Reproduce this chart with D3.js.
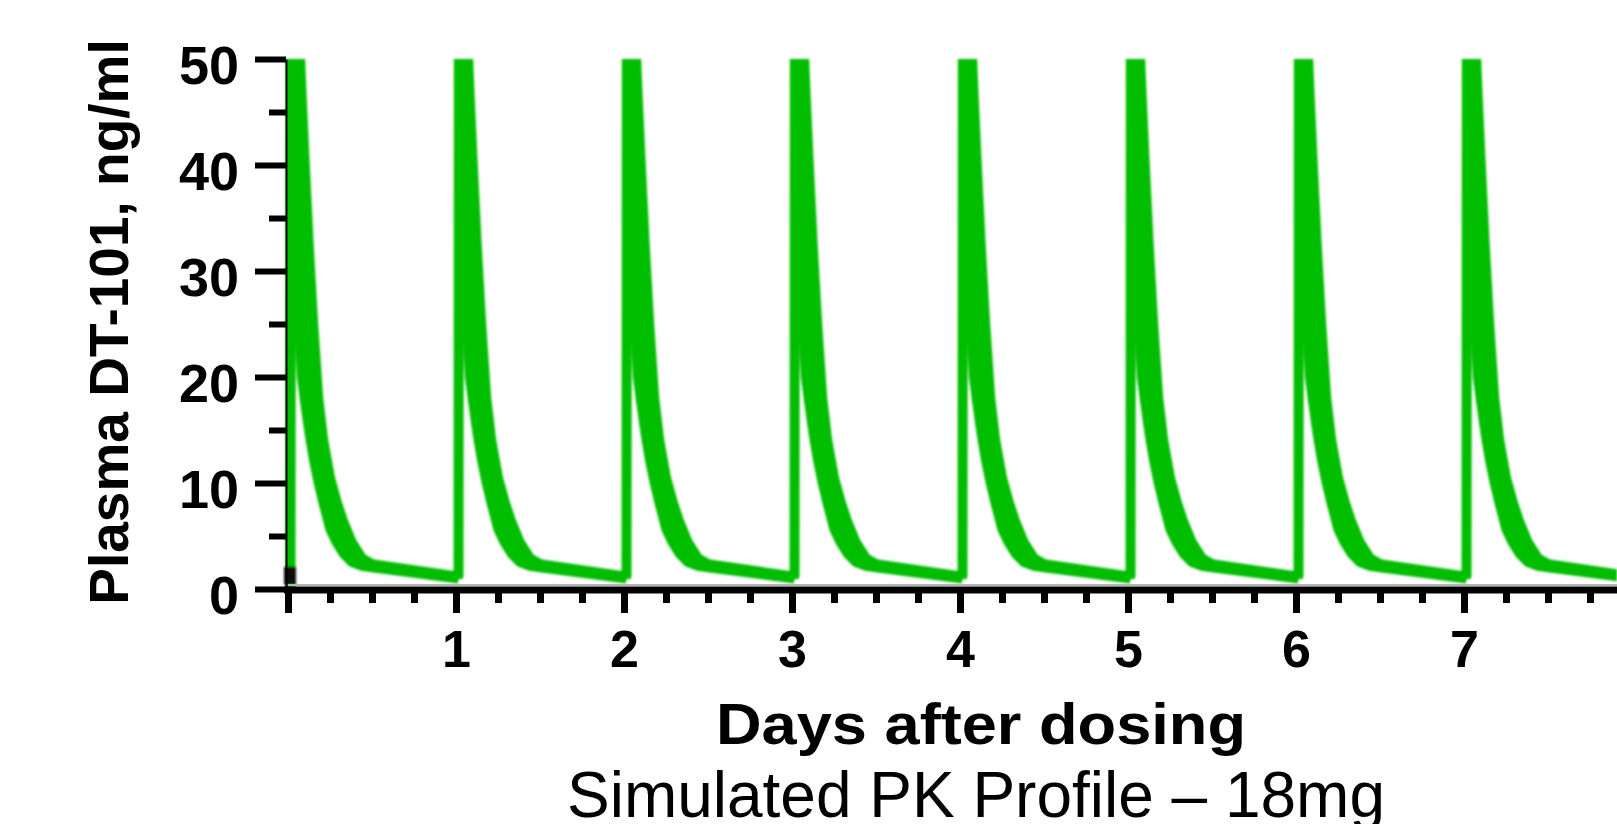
<!DOCTYPE html>
<html>
<head>
<meta charset="utf-8">
<script src="https://d3js.org/d3.v7.min.js"></script>
<style>
  body { margin: 0; background: #fff; }
  svg { display: block; }
  text { font-family: "Liberation Sans", Arial, sans-serif; fill: #000; }
</style>
</head>
<body>
<script>
// doses given once a day
var doseDays = [0, 1, 2, 3, 4, 5, 6, 7];

// time after each dose (days) and the upper / lower edge of the simulated band (ng/ml)
var tAfterDose = [0.015, 0.018, 0.03, 0.05, 0.065, 0.08, 0.10, 0.125, 0.15, 0.18, 0.21, 0.25, 0.29, 0.33, 0.38, 0.44, 0.50, 1.015];
var upperConc  = [1.15,  80,    70,   60,   53,    47,   40,   32,    25,   18,   14,   10.5, 8.2,  6.3,  4.4,  2.9,  2.35, 1.15];
var lowerConc  = [0.95,  80,    50,   33,   25,    20,   17.5, 14.7,  12.3, 10,   8.0,  5.6,  4.3,  3.3,  2.5,  2.15, 2.0,  0.95];
var predoseConc = 0;

// dark stub at the very start of the first dose
var startStub = [{t: 0.012, v: 0.4}, {t: 0.012, v: 2.1}];

var yMajor = [0, 10, 20, 30, 40, 50];
var yMinor = [5, 15, 25, 35, 45];
var xMajor = [0, 1, 2, 3, 4, 5, 6, 7];
var xLabels = ["", "1", "2", "3", "4", "5", "6", "7"];

var width = 1617, height = 824;
var green = "#00bd00";

var svg = d3.select("body").append("svg")
  .attr("width", width)
  .attr("height", height);

var x = d3.scaleLinear().domain([0, 8]).range([288, 1632]);
var y = d3.scaleLinear().domain([0, 50]).range([589, 59]);

var defs = svg.append("defs");
defs.append("clipPath").attr("id", "plot")
  .append("rect")
  .attr("x", 0).attr("y", y(50))
  .attr("width", width).attr("height", y(-2) - y(50));
defs.append("filter").attr("id", "soft")
  .attr("x", "-5%").attr("y", "-5%").attr("width", "110%").attr("height", "110%")
  .append("feGaussianBlur").attr("stdDeviation", 1.1);

// build one band per dose
var cycles = doseDays.map(function(day, k) {
  return tAfterDose.map(function(t, i) {
    var hi = upperConc[i], lo = lowerConc[i];
    if (k === 0 && i === 0) { hi = predoseConc; lo = predoseConc; }
    return {t: day + t, hi: hi, lo: lo};
  });
});

var band = d3.area()
  .x(function(d) { return x(d.t); })
  .y0(function(d) { return y(d.lo); })
  .y1(function(d) { return y(d.hi); });
var upperLine = d3.line()
  .x(function(d) { return x(d.t); })
  .y(function(d) { return y(d.hi); });
var lowerLine = d3.line()
  .x(function(d) { return x(d.t); })
  .y(function(d) { return y(d.lo); });

var curves = svg.append("g")
  .attr("filter", "url(#soft)")
  .append("g")
  .attr("clip-path", "url(#plot)");

var cycle = curves.selectAll("g.cycle")
  .data(cycles)
  .enter()
  .append("g")
  .attr("class", "cycle");

cycle.append("path")
  .attr("d", band)
  .attr("fill", green);
cycle.append("path")
  .attr("d", upperLine)
  .attr("fill", "none")
  .attr("stroke", green)
  .attr("stroke-width", 10)
  .attr("stroke-linejoin", "round");
cycle.append("path")
  .attr("d", lowerLine)
  .attr("fill", "none")
  .attr("stroke", green)
  .attr("stroke-width", 9)
  .attr("stroke-linejoin", "round");

curves.append("path")
  .attr("d", d3.line()
    .x(function(d) { return x(d.t); })
    .y(function(d) { return y(d.v); })(startStub))
  .attr("stroke", "#111")
  .attr("stroke-width", 12);

// faint grey rule just above the x axis
svg.append("line")
  .attr("x1", x(0)).attr("x2", width)
  .attr("y1", y(0) - 4).attr("y2", y(0) - 4)
  .attr("stroke", "#b4b4b4")
  .attr("stroke-width", 2);

// y axis
var yMinorAxis = svg.append("g")
  .attr("transform", "translate(286,0)")
  .call(d3.axisLeft(y).tickValues(yMinor).tickSize(17).tickFormat(""));
yMinorAxis.select(".domain").remove();
yMinorAxis.selectAll(".tick line").attr("stroke", "#000").attr("stroke-width", 6);

var yAxis = svg.append("g")
  .attr("transform", "translate(286,0)")
  .call(d3.axisLeft(y).tickValues(yMajor).tickSize(31).tickSizeOuter(0).tickPadding(16).tickFormat(d3.format("d")));
yAxis.select(".domain").attr("stroke", "#000").attr("stroke-width", 2);
yAxis.selectAll(".tick line").attr("stroke", "#000").attr("stroke-width", 6);
yAxis.selectAll(".tick text")
  .attr("dy", "0.45em")
  .attr("font-size", 54)
  .attr("font-weight", "bold")
  .attr("font-family", "'Liberation Sans', Arial, sans-serif");

// x axis
var xMinorAxis = svg.append("g")
  .attr("transform", "translate(0,590)")
  .call(d3.axisBottom(x)
    .tickValues(d3.range(0.25, 8, 0.25).filter(function(d) { return d % 1 !== 0; }))
    .tickSize(13).tickFormat(""));
xMinorAxis.select(".domain").remove();
xMinorAxis.selectAll(".tick line").attr("stroke", "#000").attr("stroke-width", 7);

var xAxis = svg.append("g")
  .attr("transform", "translate(0,590)")
  .call(d3.axisBottom(x).tickValues(xMajor).tickSize(23).tickSizeOuter(0).tickPadding(17)
    .tickFormat(function(d, i) { return xLabels[i]; }));
xAxis.select(".domain")
  .attr("d", "M" + (x(0) - 4) + ",0H" + width)
  .attr("stroke", "#000").attr("stroke-width", 7);
xAxis.selectAll(".tick line").attr("stroke", "#000").attr("stroke-width", 7);
xAxis.selectAll(".tick text")
  .attr("font-size", 52)
  .attr("font-weight", "bold")
  .attr("font-family", "'Liberation Sans', Arial, sans-serif");

// titles
svg.append("text")
  .attr("transform", "translate(128,322) rotate(-90)")
  .attr("text-anchor", "middle")
  .attr("font-size", 55)
  .attr("font-weight", "bold")
  .text("Plasma DT-101, ng/ml");

svg.append("text")
  .attr("x", 981).attr("y", 744)
  .attr("text-anchor", "middle")
  .attr("font-size", 58)
  .attr("font-weight", "bold")
  .attr("textLength", 530)
  .attr("lengthAdjust", "spacingAndGlyphs")
  .text("Days after dosing");

svg.append("text")
  .attr("x", 976).attr("y", 817)
  .attr("text-anchor", "middle")
  .attr("font-size", 65)
  .attr("textLength", 818)
  .attr("lengthAdjust", "spacingAndGlyphs")
  .text("Simulated PK Profile – 18mg");
</script>
</body>
</html>
